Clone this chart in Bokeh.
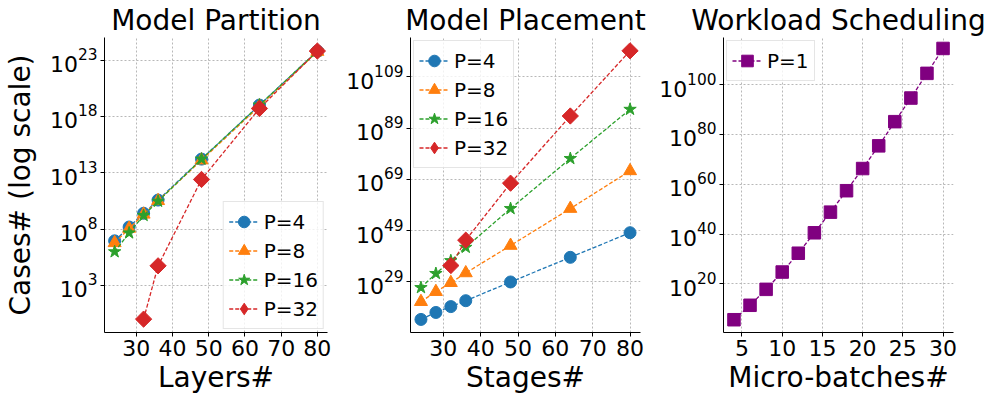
import numpy as np
from bokeh.plotting import figure
from bokeh.layouts import row
from bokeh.models import Range1d, FixedTicker, LogTickFormatter, LegendItem, Legend
from bokeh.embed import file_html
from bokeh.resources import INLINE

# ---------------- data ----------------
layers = [24, 28, 32, 36, 48, 64, 80]
part_p4 = [8.9e6, 1.5e8, 2.5e9, 3.7e10, 1.6e14, 1.0e19, 6.3e23]
part_p8 = [5.9e6, 1.1e8, 2.0e9, 3.2e10, 1.3e14, 7.9e18, 5.6e23]
part_p16 = [9.5e5, 4.5e7, 1.6e9, 2.9e10, 1.6e14, 1.0e19, 6.3e23]
layers_p32 = [32, 36, 48, 64, 80]
part_p32 = [1.0, 5.4e4, 2.5e12, 5.0e18, 6.3e23]

stages = [24, 28, 32, 36, 48, 64, 80]
place_p4 = [2.5e14, 1.3e17, 2.5e19, 5.0e21, 1.0e29, 4.0e38, 1.6e48]
place_p8 = [2.0e21, 1.6e25, 5.0e28, 3.2e32, 1.6e43, 4.0e57, 2.0e72]
place_p16 = [6.3e26, 2.0e32, 2.0e37, 3.2e42, 4.0e57, 1.3e77, 2.0e96]
stages_p32 = [32, 36, 48, 64, 80]
place_p32 = [2.5e35, 2.0e45, 3.2e67, 5.0e93, 1.3e119]

micro = [4, 6, 8, 10, 12, 14, 16, 18, 20, 22, 24, 26, 28, 30]
sched_p1 = [4.0e5, 2.5e11, 6.3e17, 5.6e24, 2.0e32, 3.2e40, 6.3e48, 2.5e57,
            2.0e66, 2.5e75, 1.3e85, 4.0e94, 3.2e104, 3.2e114]

layer_ticks = [30, 40, 50, 60, 70, 80]
part_yticks = [1e3, 1e8, 1e13, 1e18, 1e23]
place_yticks = [1e29, 1e49, 1e69, 1e89, 1e109]
micro_ticks = [5, 10, 15, 20, 25, 30]
sched_yticks = [1e20, 1e40, 1e60, 1e80, 1e100]

FONT = "DejaVu Sans"
BLUE, ORANGE, GREEN, RED, PURPLE = "#1f77b4", "#ff7f0e", "#2ca02c", "#d62728", "#800080"
H = 396


def make_fig(width, left, right, title, xr, yr, xticks, yticks, xlabel, ylabel=None):
    p = figure(width=width, height=H, y_axis_type="log",
               x_range=Range1d(*xr), y_range=Range1d(*yr),
               output_backend="svg", toolbar_location=None,
               min_border_left=left, min_border_right=right,
               min_border_top=33, min_border_bottom=H - 33 - 299)
    p.outline_line_color = None
    p.background_fill_color = "white"
    p.title.text = title
    p.title.text_font = FONT
    p.title.text_font_size = "28px"
    p.title.text_font_style = "normal"
    p.title.text_color = "black"
    p.title.align = "center"
    p.title.standoff = 2
    p.title.offset = 0
    p.xaxis.ticker = FixedTicker(ticks=xticks)
    p.yaxis.ticker = FixedTicker(ticks=yticks)
    p.yaxis.formatter = LogTickFormatter()
    for ax in (p.xaxis, p.yaxis):
        ax.major_label_text_font = FONT
        ax.major_label_text_font_size = "22px"
        ax.major_label_text_color = "black"
        ax.axis_label_text_font = FONT
        ax.axis_label_text_font_size = "28px"
        ax.axis_label_text_font_style = "normal"
        ax.axis_label_text_color = "black"
        ax.axis_line_color = "black"
        ax.major_tick_line_color = "black"
        ax.major_tick_out = 4
        ax.major_tick_in = 0
        ax.minor_tick_line_color = None
        ax.major_label_standoff = 3
        ax.axis_label_standoff = 2
    p.yaxis.axis_label_standoff = 10
    p.xaxis.axis_label = xlabel
    if ylabel:
        p.yaxis.axis_label = ylabel
    for g in (p.xgrid, p.ygrid):
        g.grid_line_color = "#b8b8b8"
        g.grid_line_dash = "2 2"
        g.grid_line_width = 1
    p.ygrid.minor_grid_line_color = None
    return p


def series(p, x, y, color, marker, size, label, angle=0.0):
    ln = p.line(x, y, line_color=color, line_width=1.3, line_dash="4 2")
    sc = p.scatter(x, y, marker=marker, size=size, fill_color=color, line_color=color,
                   angle=angle)
    if angle:
        # legend-only diamond (the legend does not rotate markers); hidden in the plot
        lg = p.scatter(x, y, marker="diamond", size=size, fill_color=color,
                       line_color=color, visible=False)
        return LegendItem(label=label, renderers=[ln, lg])
    return LegendItem(label=label, renderers=[ln, sc])


def add_legend(p, items, loc):
    lg = Legend(items=items, location=loc)
    lg.label_text_font = FONT
    lg.label_text_font_size = "20px"
    lg.label_text_color = "black"
    lg.label_height = 20
    lg.glyph_height = 29
    lg.glyph_width = 30
    lg.spacing = -7
    lg.padding = 5
    lg.margin = 3
    lg.label_standoff = 5
    lg.border_line_color = "#cccccc"
    lg.border_line_width = 1
    lg.background_fill_alpha = 0.8
    lg.inactive_fill_alpha = 0.0
    p.add_layout(lg, "center")


# Panel 1
p1 = make_fig(338, 97, 11, "Model Partition", (21.2, 82.8), (6.5e-2, 1.0e25),
              layer_ticks, part_yticks, "Layers#", "Cases# (log scale)")
it1 = [series(p1, layers, part_p4, BLUE, "circle", 12, "P=4"),
       series(p1, layers, part_p8, ORANGE, "triangle", 13, "P=8"),
       series(p1, layers, part_p16, GREEN, "star", 13, "P=16"),
       series(p1, layers_p32, part_p32, RED, "square", 11.5, "P=32", angle=np.pi / 4)]
add_legend(p1, it1, "bottom_right")

# Panel 2
p2 = make_fig(312, 72, 10, "Model Placement", (21.2, 82.8), (2.0e9, 2.0e124),
              layer_ticks, place_yticks, "Stages#")
it2 = [series(p2, stages, place_p4, BLUE, "circle", 12, "P=4"),
       series(p2, stages, place_p8, ORANGE, "triangle", 13, "P=8"),
       series(p2, stages, place_p16, GREEN, "star", 13, "P=16"),
       series(p2, stages_p32, place_p32, RED, "square", 11.5, "P=32", angle=np.pi / 4)]
add_legend(p2, it2, "top_left")

# Panel 3
p3 = make_fig(345, 73, 42, "Workload Scheduling", (2.7, 31.3), (3.0, 8.0e118),
              micro_ticks, sched_yticks, "Micro-batches#")
it3 = [series(p3, micro, sched_p1, PURPLE, "square", 12.5, "P=1")]
add_legend(p3, it3, "top_left")

layout = row(p1, p2, p3)
open("out.html", "w").write(file_html(layout, INLINE))
